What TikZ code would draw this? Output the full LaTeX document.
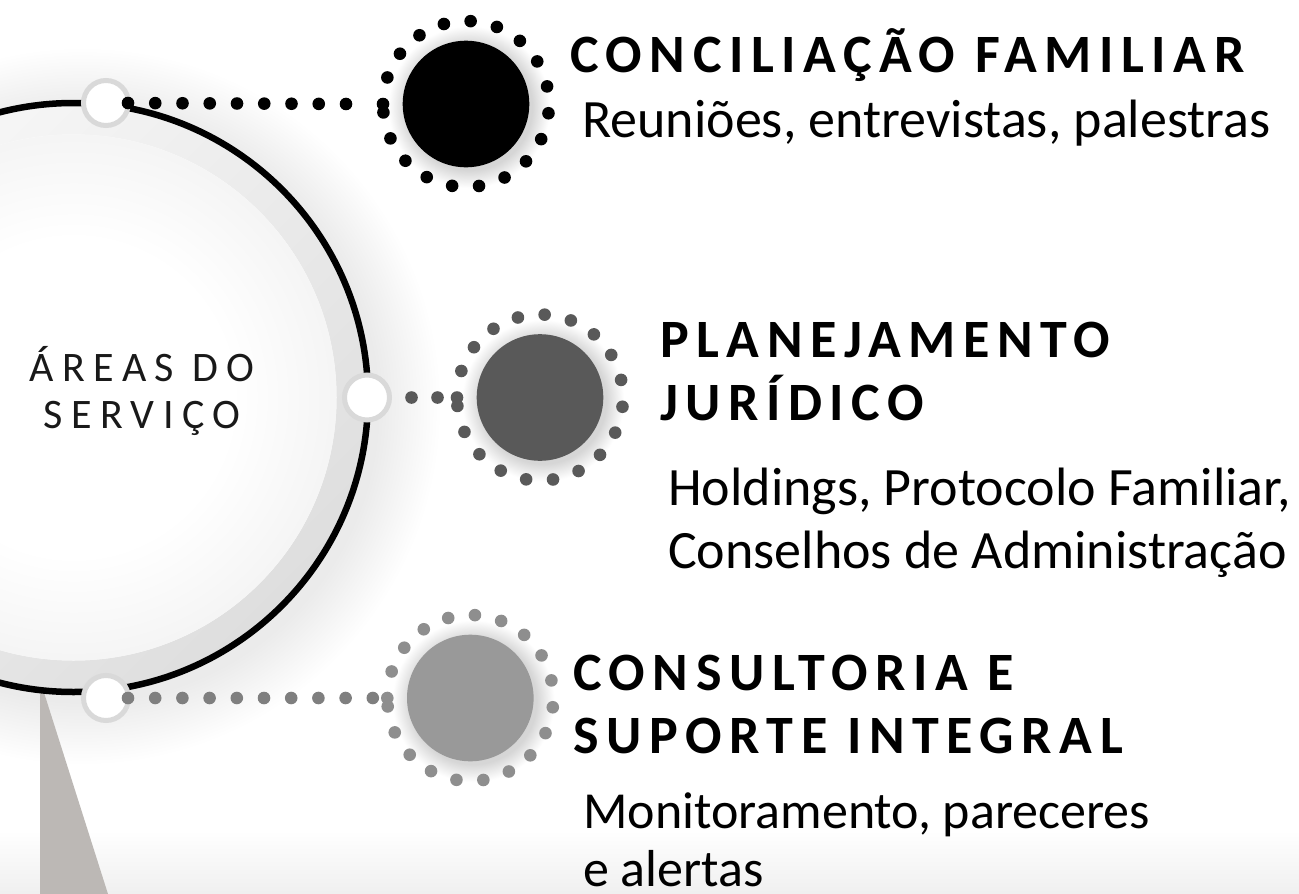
\documentclass[tikz,border=0pt]{standalone}
\usepackage{fontspec}
\setmainfont{Carlito}
\newfontfamily\headfont[LetterSpace=14]{Carlito}
\newfontfamily\areafont[LetterSpace=20]{Carlito}
\definecolor{darkg}{HTML}{595959}
\definecolor{midg}{HTML}{999999}
\definecolor{midring}{HTML}{8E8E8E}
\definecolor{midconn}{HTML}{7F7F7F}
\definecolor{ringgray}{HTML}{D9D9D9}
\definecolor{tricol}{HTML}{BCB8B5}
\pgfdeclareradialshading{bighalo}{\pgfpoint{0bp}{0bp}}{color(0bp)=(black!8); color(20.5bp)=(black!8); color(25bp)=(white); color(50bp)=(white)}
\pgfdeclareradialshading{dischalo}{\pgfpoint{0bp}{0bp}}{color(0bp)=(black!22); color(19.5bp)=(black!16); color(25bp)=(white); color(50bp)=(white)}
\pgfdeclareradialshading{innerdisc}{\pgfpoint{0bp}{0bp}}{color(0bp)=(white); color(15bp)=(white); color(25bp)=(black!4); color(50bp)=(black!4)}
\begin{document}
\begin{tikzpicture}[x=1pt,y=-1pt,
  headtxt/.style={anchor=base west, inner sep=0pt, font=\headfont\bfseries\fontsize{54}{63}\selectfont},
  bodytxt/.style={anchor=base west, inner sep=0pt, font=\fontsize{54}{63}\selectfont},
  areatxt/.style={anchor=base, inner sep=0pt, font=\areafont\fontsize{42}{48}\selectfont, text=black!90},
  hub/.style={circle, draw=ringgray, line width=5pt, fill=white, minimum size=45pt, inner sep=0pt},
  bigdisc/.style={circle, fill=#1, minimum size=126.6pt, inner sep=0pt},
  dotline/.style={line width=12.6pt, line cap=round, dash pattern=on 0pt off #1},
]
\useasboundingbox (0,0) rectangle (1299,894);
\clip (0,0) rectangle (1299,894);
\fill[white] (0,0) rectangle (1299,894);
\shade[top color=white, bottom color=black!6] (0,830) rectangle (1299,894);
% soft shadow of the big circle
\shade[shading=bighalo] (82,406) circle (359);
% stand
\fill[tricol] (40,680) -- (40,894) -- (108,894) -- cycle;
% big circle
\shade[top color=black!3, bottom color=black!13, shading angle=45] (73.5,397.5) circle (294.5);
\fill[white] (73.5,397.5) circle (263);
\shade[shading=innerdisc] (73.5,397.5) circle (263);
\draw[line width=6.5pt] (73.5,397.5) circle (294.5);
% hubs on the ring
\node[hub] (n1) at (106,103) {};
\node[hub] (n2) at (367,397.5) {};
\node[hub] (n3) at (106,698) {};
% halos of the discs
\shade[shading=dischalo] (469,107) circle (81);
\shade[shading=dischalo] (543,400.5) circle (81);
\shade[shading=dischalo] (473.3,701) circle (81);
% discs
\node[bigdisc=black] (d1) at (466,104) {};
\node[bigdisc=darkg] (d2) at (540,397.5) {};
\node[bigdisc=midg] (d3) at (470.3,698) {};
% dotted rings
\foreach \k in {0,...,19}{
  \fill[black] (d1.center) ++(180+18.64*\k:83) circle (6.3);
  \fill[darkg] (d2.center) ++(180+18.64*\k:83) circle (6.3);
  \fill[midring] (d3.center) ++(180+18.64*\k:83) circle (6.3);
}
% connectors
\draw[dotline=27.25pt, black] ([xshift=22pt]n1.center) -- ([xshift=-119.5pt]d1.center);
\draw[dotline=26pt, darkg] ([xshift=44.5pt]n2.center) -- ([xshift=-101.5pt]d2.center);
\draw[dotline=27.2pt, midconn] ([xshift=22pt]n3.center) -- ([xshift=-96.5pt]d3.center);
% texts
\node[areatxt] (a1) at (142,381) {ÁREAS DO};
\node[areatxt] (a2) at (142,428) {SERVIÇO};
\node[headtxt] (h1) at (570,72) {CONCILIAÇÃO FAMILIAR};
\node[bodytxt] (b1) at (582,137) {Reuniões, entrevistas, palestras};
\node[headtxt] (h2a) at (660,357) {PLANEJAMENTO};
\node[headtxt] (h2b) at (660,420) {JURÍDICO};
\node[bodytxt] (b2a) at (668,505) {Holdings, Protocolo Familiar,};
\node[bodytxt] (b2b) at (668,568) {Conselhos de Administração};
\node[headtxt] (h3a) at (573,690) {CONSULTORIA E};
\node[headtxt] (h3b) at (573,753) {SUPORTE INTEGRAL};
\node[bodytxt, font=\fontsize{52}{60}\selectfont] (b3a) at (583,828) {Monitoramento, pareceres};
\node[bodytxt, font=\fontsize{52}{60}\selectfont] (b3b) at (583,886) {e alertas};
\end{tikzpicture}
\end{document}
